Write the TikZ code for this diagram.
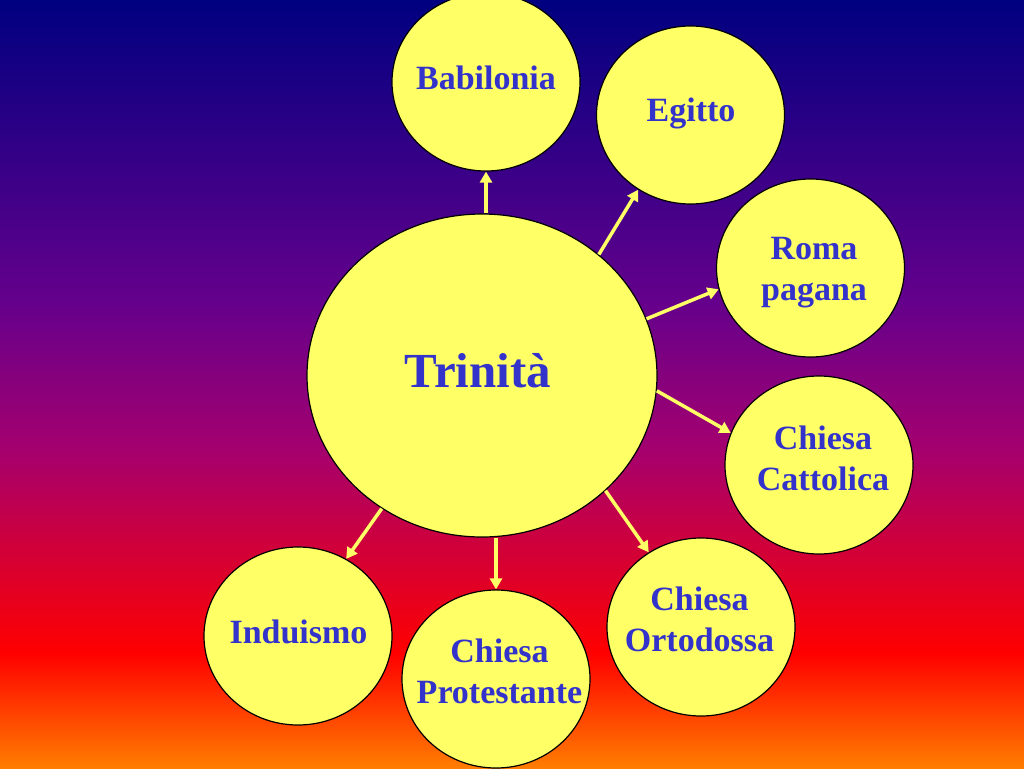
\documentclass[tikz,border=0pt]{standalone}
\usepackage{fontspec}
\setmainfont{Liberation Serif}
\usetikzlibrary{shapes.geometric,arrows.meta}
\definecolor{bubblefill}{RGB}{255,255,102}
\definecolor{labelblue}{RGB}{51,51,204}
\definecolor{bgA}{RGB}{0,0,128}
\definecolor{bgB}{RGB}{100,0,140}
\definecolor{bgC}{RGB}{165,0,110}
\definecolor{bgD}{RGB}{255,0,0}
\definecolor{bgE}{RGB}{255,125,0}
\begin{document}
\begin{tikzpicture}[x=1pt,y=-1pt,
  bubble/.style={ellipse,draw=black,line width=1.2pt,fill=bubblefill,
    minimum width=188pt,minimum height=178pt,inner sep=0pt},
  bigbubble/.style={bubble,minimum width=350pt,minimum height=323pt},
  lbl/.style={text=labelblue,font=\fontsize{34}{41}\selectfont\bfseries,
    align=center,inner sep=0pt},
  biglbl/.style={lbl,font=\fontsize{49}{56}\selectfont\bfseries},
  arr/.style={draw=bubblefill,line width=3.5pt,
    -{Triangle[length=11pt,width=12pt]}}]
\useasboundingbox (0,0) rectangle (1024,768);
% background gradient
\shade[top color=bgA,bottom color=bgB] (0,0) rectangle (1024,300.5);
\shade[top color=bgB,bottom color=bgC] (0,300) rectangle (1024,450.5);
\shade[top color=bgC,bottom color=bgD] (0,450) rectangle (1024,653.5);
\shade[top color=bgD,bottom color=bgE] (0,653) rectangle (1024,768);
% bubbles
\node[bigbubble] (trin) at (482,375.5) {};
\node[bubble] (bab) at (486,82) {};
\node[bubble] (egi) at (690.5,115) {};
\node[bubble] (roma) at (810.5,268) {};
\node[bubble] (catt) at (819,465) {};
\node[bubble] (orto) at (701,627) {};
\node[bubble] (prot) at (496,679) {};
\node[bubble] (indu) at (298,636) {};
% labels
\node[biglbl] (trinT) at (478,371) {Trinità};
\node[lbl] (babT) at (486,77.5) {Babilonia};
\node[lbl] (egiT) at (691,113) {Egitto};
\node[lbl] (romaT) at (814,273) {Roma\\pagana};
\node[lbl] (cattT) at (823,458.5) {Chiesa\\Cattolica};
\node[lbl] (ortoT) at (699.5,619) {Chiesa\\Ortodossa};
\node[lbl] (protT) at (499.5,671) {Chiesa\\Protestante};
\node[lbl] (induT) at (298.5,632) {Induismo};
% arrows
\draw[arr] (trin.north -| bab.south) -- (bab.south);
\draw[arr] (trin.46.6) -- (egi.235.3);
\draw[arr] (trin.19.8) -- (roma.193.8);
\draw[arr] (trin.-5.7) -- (catt.160.8);
\draw[arr] (trin.-43.7) -- (orto.125.4);
\draw[arr] (trin.south -| prot.north) -- (prot.north);
\draw[arr] (trin.233.1) -- (indu.58);
\end{tikzpicture}
\end{document}
